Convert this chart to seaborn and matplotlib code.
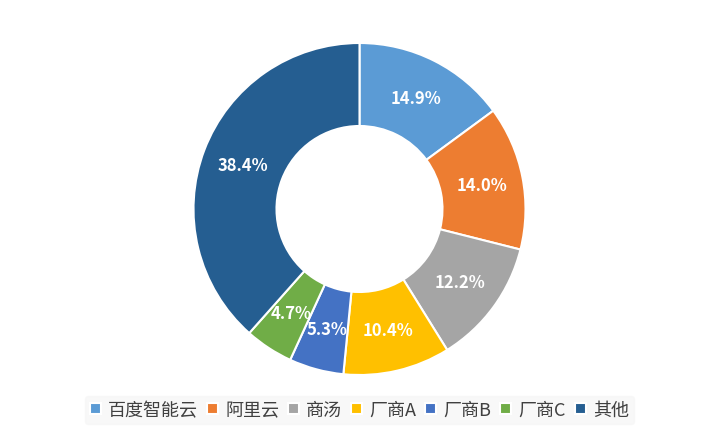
import matplotlib
matplotlib.use('Agg')
import matplotlib.pyplot as plt
import seaborn as sns
import numpy as np

sns.set_theme(style="white")
plt.rcParams['font.family'] = ['Noto Sans CJK SC', 'DejaVu Sans']

# --- adatok ---
labels = ['百度智能云', '阿里云', '商汤', '厂商A', '厂商B', '厂商C', '其他']
shares = [14.9, 14.0, 12.2, 10.4, 5.3, 4.7, 38.4]
colors = ['#5B9BD5', '#ED7D31', '#A5A5A5', '#FFC000', '#4472C4', '#70AD47', '#255E91']

fig = plt.figure(figsize=(7.19, 4.31), dpi=100)
ax = fig.add_axes([0.5 - 166 / 719, (431 - 376) / 431, 332 / 719, 332 / 431])

wedges, _ = ax.pie(shares, colors=colors, startangle=90, counterclock=False, radius=1,
                   wedgeprops=dict(width=0.5, edgecolor='white', linewidth=1.5))
for w, v in zip(wedges, shares):
    ang = np.deg2rad((w.theta1 + w.theta2) / 2)
    ax.text(0.75 * np.cos(ang), 0.75 * np.sin(ang), f'{v}%', ha='center', va='center',
            color='white', fontsize=12, fontweight='bold')
ax.set_xlim(-1, 1)
ax.set_ylim(-1, 1)
ax.set_aspect('equal')

leg = fig.legend(wedges, labels, loc='center', bbox_to_anchor=(0.5, 20 / 431),
                 ncol=7, frameon=True, fontsize=13, handlelength=0.6, handleheight=0.6,
                 handletextpad=0.4, columnspacing=0.5, borderpad=0.3)
leg.get_frame().set_facecolor('#F7F7F7')
leg.get_frame().set_edgecolor('#F7F7F7')
for t in leg.get_texts():
    t.set_color('#404040')

fig.savefig('out.png', dpi=100)
